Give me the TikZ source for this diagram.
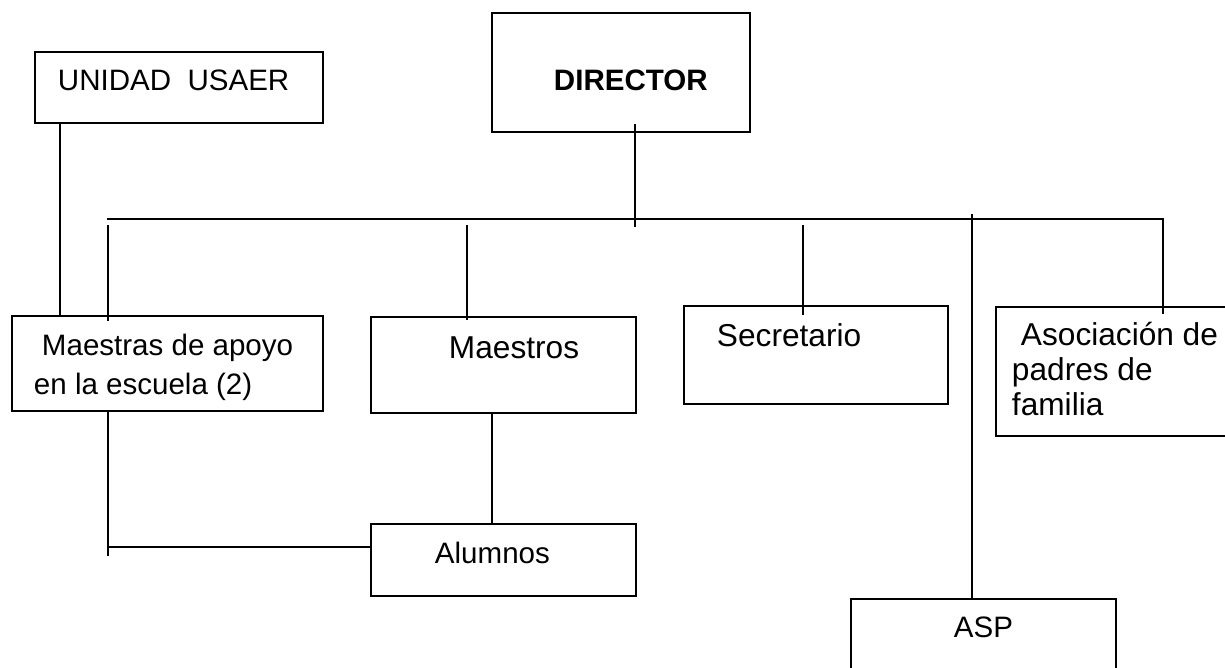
\documentclass[tikz,border=0pt]{standalone}
\usepackage{fontspec}
\setmainfont{Liberation Sans}
\begin{document}
\begin{tikzpicture}[x=0.025cm, y=-0.025cm, line width=1.4pt,
  box/.style={draw, rectangle, inner sep=0pt, outer sep=0pt},
  lbl/.style={anchor=base west, inner sep=0pt, align=left, font=\fontsize{21}{27.6}\selectfont},
  big/.style={font=\fontsize{22.5}{24.8}\selectfont}]
\clip (0,0) rectangle (1225,667);

% Boxes
\node[box, minimum width=7.2cm, minimum height=1.775cm] (usaer) at (179,87.5) {};
\node[box, minimum width=6.45cm, minimum height=2.975cm] (director) at (621,72.5) {};
\node[box, minimum width=7.775cm, minimum height=2.375cm] (apoyo) at (167.5,363.5) {};
\node[box, minimum width=6.625cm, minimum height=2.4cm] (maestros) at (503.5,365) {};
\node[box, minimum width=6.6cm, minimum height=2.45cm] (secretario) at (816,355) {};
\node[box, minimum width=6.1cm, minimum height=3.225cm] (asoc) at (1118,371.5) {};
\node[box, minimum width=6.625cm, minimum height=1.8cm] (alumnos) at (503.5,560) {};
\node[box, minimum width=6.625cm, minimum height=2.525cm] (asp) at (983.5,649.5) {};

% Texts (base of last line)
\node[lbl] (usaer-t) at (57,90) {UNIDAD\ \ USAER};
\node[lbl, font=\bfseries\fontsize{21}{25}\selectfont] (director-t) at (553,90) {DIRECTOR};
\node[lbl] (apoyo-t) at (33,394) {\hspace*{0.2cm}Maestras de apoyo\\en la escuela (2)};
\node[lbl, big] (maestros-t) at (448,358) {Maestros};
\node[lbl, big] (secretario-t) at (716,346) {Secretario};
\node[lbl, big] (asoc-t) at (1011,415) {\hspace*{0.225cm}Asociación de\\padres de\\familia};
\node[lbl] (alumnos-t) at (434,563) {Alumnos};
\node[lbl] (asp-t) at (953,637) {ASP};

% Connectors
\coordinate (u1) at (60,0);
\draw (usaer.south -| u1) -- (apoyo.north -| u1);
\coordinate (dtop) at (635,124);
\coordinate (dbot) at (635,227);
\draw (dtop) -- (dbot);
\coordinate (busw) at (107,219);
\coordinate (buse) at (1163,219);
\draw (busw) -- (buse) -- ([yshift=-0.17cm]buse |- asoc.north);
\coordinate (t1) at (108,225);
\coordinate (t2) at (467,225);
\coordinate (t3) at (803,225);
\draw[shorten >=-0.12cm] (t1) -- (t1 |- apoyo.north);
\draw[shorten >=-0.07cm] (t2) -- (t2 |- maestros.north);
\draw[shorten >=-0.22cm] (t3) -- (t3 |- secretario.north);
\coordinate (asptop) at (972,214);
\draw (asptop) -- (asptop |- asp.north);
\coordinate (k1) at (108,556);
\coordinate (k2) at (108,547);
\draw (apoyo.south -| k1) -- (k1);
\draw (k2) -- (k2 -| alumnos.west);
\coordinate (m1) at (492,0);
\draw (maestros.south -| m1) -- (alumnos.north -| m1);
\end{tikzpicture}
\end{document}
